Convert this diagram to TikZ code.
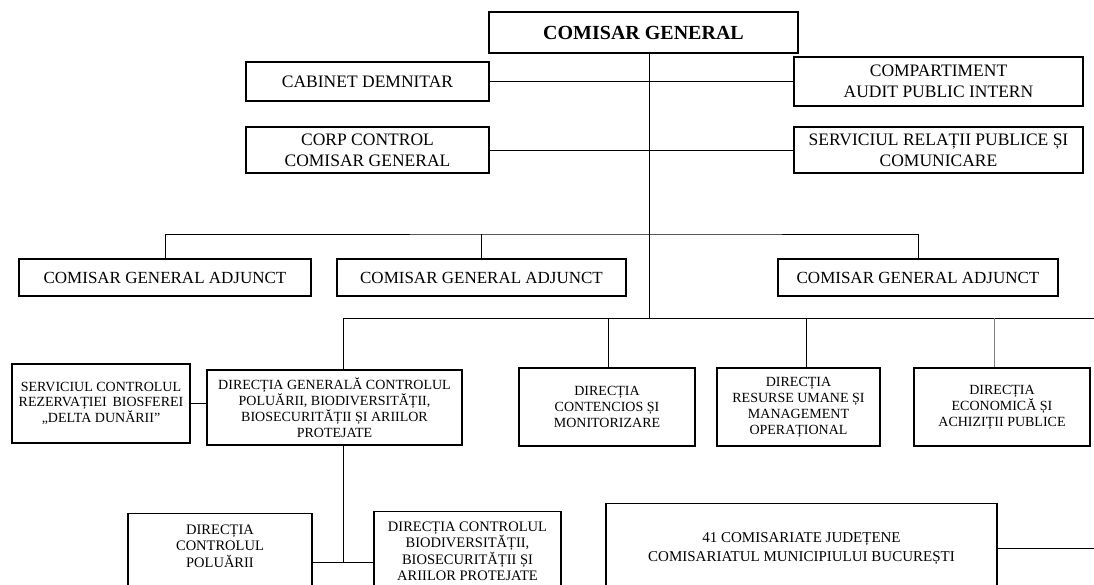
\documentclass[tikz,border=0pt]{standalone}
\usepackage{fontspec}
\setmainfont{Liberation Serif}
\newcommand{\fs}[2]{\fontsize{#1}{#2}\selectfont}

\begin{document}
\begin{tikzpicture}[x=1pt, y=-1pt,
      b/.style={draw, line width=1.1pt, align=center, inner sep=0pt},
      lvl/.style={b, minimum width=243pt, font=\fs{17.5}{21}},
      adj/.style={b, minimum height=37pt, font=\fs{17}{20}},
      dir/.style={b, minimum height=78pt, font=\fs{14}{16}},
      low/.style={b, anchor=north, inner ysep=10pt, text depth=90pt, font=\fs{14.5}{16.5}},
      ln/.style={line width=1pt}]
    \useasboundingbox[fill=white] (0,0) rectangle (1094,584);
    \clip (0,0) rectangle (1094,584);
    % conducere
    \node[b, minimum width=309pt, minimum height=41pt, font=\fs{20}{24}\bfseries] (cg) at (643.5,32.5) {COMISAR GENERAL};
    \node[lvl, minimum height=39pt] (cab) at (367.5,81.5) {CABINET DEMNITAR};
    \node[lvl, minimum width=289pt, minimum height=49pt] (aud) at (938.5,81.5) {COMPARTIMENT\\AUDIT PUBLIC INTERN};
    \node[lvl, minimum height=46pt] (corp) at (367.5,150) {CORP CONTROL\\COMISAR GENERAL};
    \node[lvl, minimum width=289pt, minimum height=46pt] (srp) at (938.5,150) {SERVICIUL RELAȚII PUBLICE ȘI\\COMUNICARE};
    % adjuncti
    \node[adj, minimum width=292pt] (a1) at (165,277.5) {COMISAR GENERAL ADJUNCT};
    \node[adj, minimum width=289pt] (a2) at (481.5,277.5) {COMISAR GENERAL ADJUNCT};
    \node[adj, minimum width=280pt] (a3) at (918,277.5) {COMISAR GENERAL ADJUNCT};
    % directii
    \node[b, minimum width=178pt, minimum height=79pt, font=\fs{14}{14.5}] (scrb) at (101,403.5)
      {SERVICIUL CONTROLUL\\REZERVAȚIEI\, BIOSFEREI\\„DELTA DUNĂRII”};
    \node[dir, minimum width=255pt, minimum height=75pt] (dg) at (334.5,407.5)
      {DIRECȚIA GENERALĂ CONTROLUL\\POLUĂRII, BIODIVERSITĂȚII,\\BIOSECURITĂȚII ȘI ARIILOR\\PROTEJATE};
    \node[dir, minimum width=176pt] (dcm) at (607,407) {DIRECȚIA\\CONTENCIOS ȘI\\MONITORIZARE};
    \node[dir, minimum width=163pt] (drum) at (798.5,407) {DIRECȚIA\\RESURSE UMANE ȘI\\MANAGEMENT\\OPERAȚIONAL};
    \node[dir, minimum width=176pt] (deap) at (1002,407) {DIRECȚIA\\ECONOMICĂ ȘI\\ACHIZIȚII PUBLICE};
    % nivel inferior
    \node[low, minimum width=184pt, inner ysep=11pt] (dcp) at (220,513) {DIRECȚIA\\CONTROLUL\\POLUĂRII};
    \node[low, minimum width=187pt] (dcb) at (467.5,511) {DIRECȚIA CONTROLUL\\BIODIVERSITĂȚII,\\BIOSECURITĂȚII ȘI\\ARIILOR PROTEJATE};
    \node[low, minimum width=391pt, inner ysep=29pt, font=\fs{15}{19}] (cj) at (801.5,503)
      {41 COMISARIATE JUDEȚENE\\COMISARIATUL MUNICIPIULUI BUCUREȘTI};
    \coordinate (tr) at (649,318);
    \coordinate (ab) at (649,234);
    \coordinate (busend) at (1094,318);
    \coordinate (j) at (343,562);
    \coordinate (cjo) at (1094,548);
    % legaturi
    \draw[ln] (cg.south -| tr) -- (tr);
    \draw[ln] (cab.east) -- (cab.east -| tr);
    \draw[ln] (aud.west) -- (aud.west -| tr);
    \draw[ln] (corp.east) -- (corp.east -| tr);
    \draw[ln] (srp.west) -- (srp.west -| tr);
    \draw[ln] (a1.north) |- (ab) -| (a3.north);
    \draw[ln] (a2.north) -- (a2.north |- ab);
    \draw[ln] ([xshift=8.5pt]dg.north) |- (busend);
    \draw[ln] ([xshift=1pt]dcm.north) -- ([xshift=1pt]dcm.north |- tr);
    \draw[ln] ([xshift=7.5pt]drum.north) -- ([xshift=7.5pt]drum.north |- tr);
    \draw[ln, gray, line width=0.7pt] ([xshift=-8pt]deap.north) -- ([xshift=-8pt]deap.north |- tr);
    \draw[ln] (scrb.east) -- (scrb.east -| dg.west);
    \draw[ln] (j |- dg.south) -- (j);
    \draw[ln] (dcp.east |- j) -- (dcb.west |- j);
    \draw[ln] (cj.east |- cjo) -- (cjo);
  \end{tikzpicture}
\end{document}
